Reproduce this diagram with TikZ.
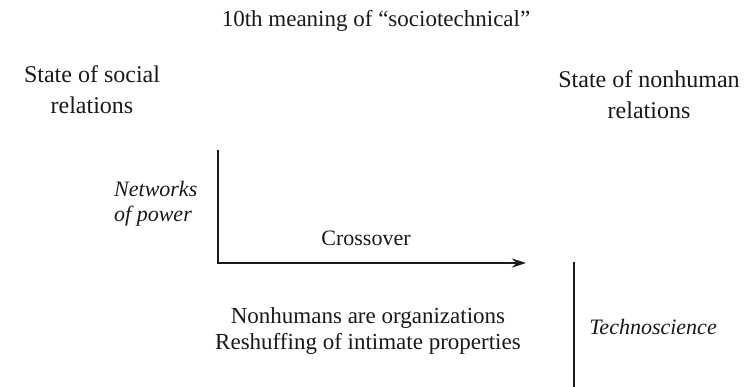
\documentclass[tikz,border=0pt]{standalone}
\usepackage{fontspec}
\setmainfont{Liberation Serif}
\usetikzlibrary{arrows.meta}
\begin{document}
\begin{tikzpicture}[x=1pt,y=-1pt,
  lbl/.style={inner sep=0pt,align=center,font=\fontsize{24}{31}\selectfont,text=black!90},
  itl/.style={inner sep=0pt,align=left,font=\fontsize{22}{25}\selectfont\itshape,text=black!90},
  axis/.style={line width=1.8pt,black!90},
  sep/.style={line width=1.3pt,black!90}]
\useasboundingbox (0,0) rectangle (753,387);
\node[lbl,font=\fontsize{23}{28}\selectfont] (title) at (376,21) {10th meaning of “sociotechnical”};
\node[lbl] (social) at (92,90) {State of social\\relations};
\node[lbl] (nonhuman) at (649,95) {State of nonhuman\\relations};
\node[itl,anchor=west] (power) at (114,204) {Networks\\of power};
\node[lbl,font=\fontsize{22}{26}\selectfont] (cross) at (366,238) {Crossover};
\node[lbl,font=\fontsize{23}{26}\selectfont] (nonorg) at (368,331) {Nonhumans are organizations\\Reshuffing of intimate properties};
\node[itl] (techno) at (653,327) {Technoscience};
\coordinate (top) at (218,150);
\coordinate (corner) at (218,263);
\coordinate (tip) at (526,263);
\coordinate (septop) at (574,262);
\coordinate (sepbot) at (574,387);
\draw[axis,-{Stealth[length=14pt,width=9pt]}] (top) -- (corner) -- (tip);
\draw[sep] (septop) -- (sepbot);
\end{tikzpicture}
\end{document}
